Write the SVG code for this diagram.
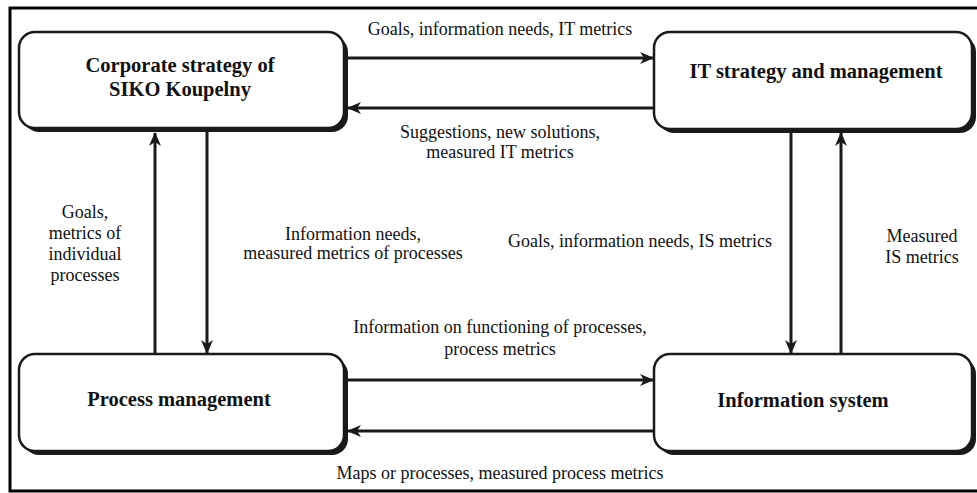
<svg xmlns="http://www.w3.org/2000/svg" width="977" height="493" viewBox="0 0 977 493">
<style>
.box{fill:#fff;stroke:#1a1a1a;stroke-width:2.5}
.shadow{fill:#1a1a1a}
.title{font-family:"Liberation Serif","Times New Roman","DejaVu Serif",serif;font-weight:bold;font-size:20.5px;fill:#111;text-anchor:middle}
.lbl{font-family:"Liberation Serif","Times New Roman","DejaVu Serif",serif;font-size:18px;fill:#111;text-anchor:middle}
.conn{stroke:#1a1a1a;stroke-width:3;fill:none;marker-end:url(#ah)}
</style>
<defs>
<marker id="ah" viewBox="0 0 14 12" refX="13" refY="6" markerWidth="14" markerHeight="12" markerUnits="userSpaceOnUse" orient="auto">
<path d="M0,0 L14,6 L0,12 L4,6 z" fill="#1a1a1a"/>
</marker>
</defs>
<rect width="977" height="493" fill="#fff"/>
<rect x="10" y="8" width="980" height="483" fill="none" stroke="#000" stroke-width="3"/>
<g id="corporate">
<rect class="shadow" x="23" y="36" width="325" height="96" rx="16"/>
<rect class="box" x="19" y="32" width="325" height="96" rx="16"/>
<text class="title" x="180" y="72">Corporate strategy of</text>
<text class="title" x="180" y="96">SIKO Koupelny</text>
</g>
<g id="it">
<rect class="shadow" x="658" y="36" width="318" height="97" rx="16"/>
<rect class="box" x="654" y="32" width="318" height="97" rx="16"/>
<text class="title" x="816" y="78">IT strategy and management</text>
</g>
<g id="process">
<rect class="shadow" x="23" y="358" width="325" height="97" rx="16"/>
<rect class="box" x="19" y="354" width="325" height="97" rx="16"/>
<text class="title" x="179" y="406">Process management</text>
</g>
<g id="infosys">
<rect class="shadow" x="658" y="358" width="318" height="97" rx="16"/>
<rect class="box" x="654" y="354" width="318" height="97" rx="16"/>
<text class="title" x="803" y="407">Information system</text>
</g>
<g id="connectors">
<line class="conn" x1="348" y1="58" x2="653" y2="58"/>
<line class="conn" x1="653" y1="108" x2="348" y2="108"/>
<line class="conn" x1="155" y1="353" x2="155" y2="133"/>
<line class="conn" x1="207" y1="132" x2="207" y2="353"/>
<line class="conn" x1="791" y1="133" x2="791" y2="353"/>
<line class="conn" x1="841" y1="353" x2="841" y2="133"/>
<line class="conn" x1="348" y1="380" x2="653" y2="380"/>
<line class="conn" x1="653" y1="431" x2="348" y2="431"/>
</g>
<g id="labels">
<text class="lbl" x="500" y="35">Goals, information needs, IT metrics</text>
<text class="lbl" x="500" y="138">Suggestions, new solutions,</text>
<text class="lbl" x="500" y="158">measured IT metrics</text>
<text class="lbl" x="85" y="218">Goals,</text>
<text class="lbl" x="85" y="239">metrics of</text>
<text class="lbl" x="85" y="260">individual</text>
<text class="lbl" x="85" y="281">processes</text>
<text class="lbl" x="353" y="240">Information needs,</text>
<text class="lbl" x="353" y="259">measured metrics of processes</text>
<text class="lbl" x="640" y="247">Goals, information needs, IS metrics</text>
<text class="lbl" x="922" y="242">Measured</text>
<text class="lbl" x="922" y="263">IS metrics</text>
<text class="lbl" x="500" y="333">Information on functioning of processes,</text>
<text class="lbl" x="500" y="355">process metrics</text>
<text class="lbl" x="500" y="479">Maps or processes, measured process metrics</text>
</g>
</svg>
